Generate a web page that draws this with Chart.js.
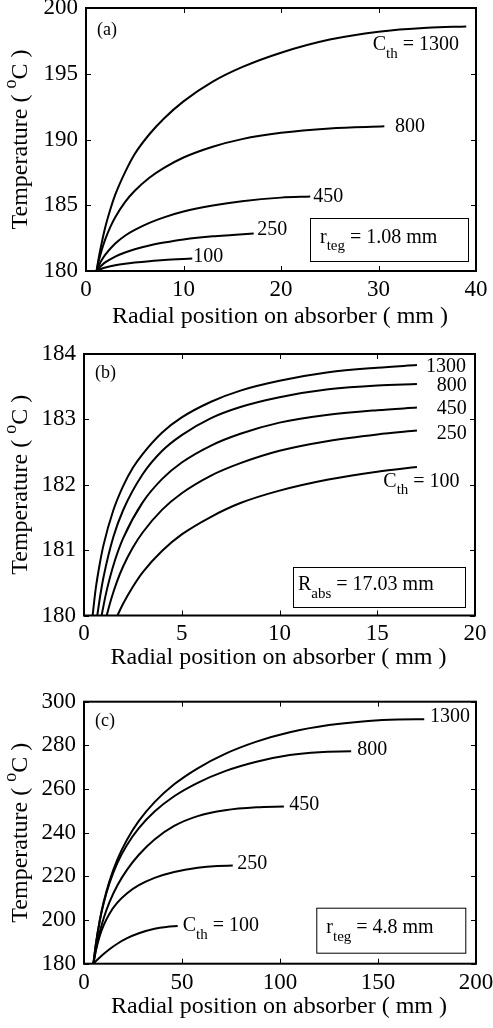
<!DOCTYPE html>
<html>
<head>
<meta charset="utf-8">
<script src="https://cdn.jsdelivr.net/npm/chart.js@4.4.0/dist/chart.umd.min.js"></script>
<style>
  body { margin: 0; background: #fff; }
  canvas { position: absolute; left: 0; }
</style>
</head>
<body>
<canvas id="chartA" width="493" height="340" style="top:0"></canvas>
<canvas id="chartB" width="493" height="340" style="top:340px"></canvas>
<canvas id="chartC" width="493" height="348" style="top:680px"></canvas>
<script>
// Panel (a): r_teg = 1.08 mm
const rA1300 = [1.08, 1.3, 1.6, 2, 2.5, 3, 4, 5, 6.5, 8, 10, 13, 16, 20, 25, 30, 35, 39];
const tA1300 = [180, 180.98, 182.1, 183.4, 184.7, 185.8, 187.5, 188.9, 190.4, 191.6, 192.9, 194.4, 195.5, 196.6, 197.6, 198.2, 198.5, 198.6];
const rA800 = [1.08, 1.3, 1.6, 2, 2.5, 3, 4, 5, 6.5, 8, 10, 13, 16, 20, 25, 30.6];
const tA800 = [180, 180.74, 181.57, 182.46, 183.36, 184.09, 185.24, 186.1, 187.09, 187.84, 188.63, 189.45, 190.03, 190.51, 190.84, 191.0];
const rA450 = [1.08, 1.3, 1.6, 2, 3, 4, 5, 6.5, 8, 10, 13, 16, 20, 23];
const tA450 = [180, 180.38, 180.81, 181.26, 182.09, 182.68, 183.12, 183.66, 184.08, 184.52, 184.98, 185.31, 185.58, 185.66];
const rA250 = [1.08, 1.3, 1.6, 2, 3, 4, 5, 6.5, 8, 10, 13, 15, 17.2];
const tA250 = [180, 180.2, 180.42, 180.67, 181.1, 181.41, 181.65, 181.94, 182.16, 182.4, 182.64, 182.74, 182.85];
const rA100 = [1.08, 1.3, 1.6, 2, 3, 4, 5, 6.5, 8, 10.9];
const tA100 = [180, 180.08, 180.17, 180.26, 180.43, 180.55, 180.64, 180.75, 180.84, 180.95];

// Panel (b): R_abs = 17.03 mm
const rB1300 = [0.44, 0.6, 0.8, 1, 1.5, 2, 2.5, 3, 4, 5, 6.5, 8, 10, 12.5, 15, 17.03];
const tB1300 = [180, 180.41, 180.78, 181.08, 181.61, 181.98, 182.26, 182.47, 182.8, 183.03, 183.27, 183.44, 183.59, 183.72, 183.79, 183.83];
const rB800 = [0.68, 0.85, 1, 1.5, 2, 3, 4, 5, 6.5, 8, 10, 12.5, 15, 17.03];
const tB800 = [180, 180.34, 180.59, 181.2, 181.61, 182.16, 182.52, 182.76, 183.02, 183.19, 183.34, 183.46, 183.52, 183.54];
const rB450 = [0.9, 1.1, 1.3, 1.6, 2, 3, 4, 5, 6.5, 8, 10, 12.5, 15, 17.03];
const tB450 = [180, 180.3, 180.55, 180.86, 181.18, 181.73, 182.09, 182.34, 182.6, 182.78, 182.95, 183.07, 183.14, 183.18];
const rB250 = [1.16, 1.4, 1.7, 2, 2.5, 3, 4, 5, 6.5, 8, 10, 12.5, 15, 17.03];
const tB250 = [180, 180.26, 180.53, 180.75, 181.04, 181.27, 181.62, 181.87, 182.14, 182.33, 182.52, 182.67, 182.77, 182.83];
const rB100 = [1.71, 2, 2.5, 3, 4, 5, 6.5, 8, 10, 12.5, 15, 17.03];
const tB100 = [180, 180.18, 180.44, 180.66, 180.99, 181.24, 181.51, 181.72, 181.91, 182.08, 182.2, 182.27];

// Panel (c): r_teg = 4.8 mm
const rC1300 = [4.8, 6, 8, 10, 13, 17, 22, 28, 36, 46, 58, 72, 88, 105, 125, 145, 160, 173.6];
const tC1300 = [180, 188.65, 199.66, 208.1, 217.86, 227.7, 236.9, 245.4, 254.0, 262.15, 269.5, 276.1, 281.7, 286.0, 289.3, 291.2, 291.85, 291.95];
const rC800 = [4.8, 6, 8, 10, 13, 17, 22, 28, 36, 46, 58, 72, 88, 105, 120, 136.3];
const tC800 = [180, 188.6, 199.4, 207.55, 216.9, 226.1, 234.5, 242.1, 249.7, 256.7, 262.85, 268.2, 272.5, 275.55, 276.9, 277.3];
const rC450 = [4.8, 6, 8, 10, 13, 17, 22, 28, 36, 46, 58, 72, 88, 102];
const tC450 = [180, 186.26, 194.37, 200.69, 208.15, 215.8, 223.1, 229.9, 236.9, 243.1, 247.6, 250.3, 251.65, 252.0];
const rC250 = [4.8, 6, 8, 10, 13, 17, 22, 28, 36, 46, 58, 68, 75.9];
const tC250 = [180, 185.74, 192.62, 197.57, 202.93, 207.93, 212.28, 215.96, 219.31, 222.0, 223.95, 224.76, 224.92];
const rC100 = [4.8, 6, 8, 10, 13, 17, 22, 28, 36, 42, 47.8];
const tC100 = [180, 181.11, 182.85, 184.45, 186.64, 189.15, 191.68, 193.95, 196.0, 196.85, 197.22];

const SERIF = '"Liberation Serif", "Times New Roman", serif';

function zip(xs, ys) {
  return xs.map((x, i) => ({ x: x, y: ys[i] }));
}

// draws text made of pieces, some subscript / superscript
function drawRich(ctx, parts, x, y, size) {
  let cx = x;
  parts.forEach(p => {
    const small = p[1] === 'sub' || p[1] === 'sup';
    ctx.font = (small ? Math.round(size * 0.75) : size) + 'px ' + SERIF;
    let dy = 0;
    if (p[1] === 'sub') dy = size * 0.45;
    if (p[1] === 'sup') dy = -size * 0.4;
    ctx.fillText(p[0], cx, y + dy);
    cx += ctx.measureText(p[0]).width;
  });
  return cx - x;
}

function richWidth(ctx, parts, size) {
  let w = 0;
  parts.forEach(p => {
    const small = p[1] === 'sub' || p[1] === 'sup';
    ctx.font = (small ? Math.round(size * 0.75) : size) + 'px ' + SERIF;
    w += ctx.measureText(p[0]).width;
  });
  return w;
}

const framePlugin = {
  id: 'frame',
  afterDraw(chart, args, opts) {
    const ctx = chart.ctx;
    const a = chart.chartArea;
    const xs = chart.scales.x, ys = chart.scales.y;
    ctx.save();
    ctx.strokeStyle = '#000';
    ctx.fillStyle = '#000';

    // inward tick marks on all four sides
    ctx.lineWidth = 1;
    ctx.beginPath();
    xs.ticks.forEach(t => {
      const px = Math.round(xs.getPixelForValue(t.value)) + 0.5;
      ctx.moveTo(px, a.bottom); ctx.lineTo(px, a.bottom - 5);
      ctx.moveTo(px, a.top); ctx.lineTo(px, a.top + 5);
    });
    ys.ticks.forEach(t => {
      const py = Math.round(ys.getPixelForValue(t.value)) + 0.5;
      ctx.moveTo(a.left, py); ctx.lineTo(a.left + 5, py);
      ctx.moveTo(a.right, py); ctx.lineTo(a.right - 5, py);
    });
    ctx.stroke();

    ctx.lineWidth = 2;
    ctx.strokeRect(a.left, a.top, a.right - a.left, a.bottom - a.top);

    ctx.textBaseline = 'middle';
    ctx.textAlign = 'left';

    // panel letter
    ctx.font = '18px ' + SERIF;
    ctx.fillText(opts.letter, a.left + 11, a.top + opts.letterDy);

    // curve labels
    opts.labels.forEach(l => {
      drawRich(ctx, l.parts, xs.getPixelForValue(l.x), ys.getPixelForValue(l.y), 20);
    });

    // boxed parameter note
    const b = opts.box;
    ctx.lineWidth = 1;
    ctx.strokeRect(a.right - b.right - b.w + 0.5, a.bottom - b.bottom - b.h + 0.5, b.w, b.h);
    drawRich(ctx, b.parts, a.right - b.right - b.w + b.pad, a.bottom - b.bottom - b.h / 2 - 2, 20);

    // x title
    ctx.font = '24px ' + SERIF;
    ctx.textAlign = 'center';
    ctx.fillText('Radial position on absorber ( mm )', (a.left + a.right) / 2 - 1, a.bottom + opts.titleDy);

    // y title with superscript o
    const yParts = [['Temperature ( '], ['o', 'sup'], ['C )']];
    ctx.textAlign = 'left';
    const w = richWidth(ctx, yParts, 24);
    ctx.translate(21, (a.top + a.bottom) / 2);
    ctx.rotate(-Math.PI / 2);
    drawRich(ctx, yParts, -w / 2, 0, 24);
    ctx.restore();
  }
};

function makeChart(id, p) {
  new Chart(document.getElementById(id), {
    type: 'line',
    data: {
      datasets: p.series.map(s => ({
        data: s,
        borderColor: '#000',
        borderWidth: 2,
        pointRadius: 0,
        fill: false,
        cubicInterpolationMode: 'monotone'
      }))
    },
    options: {
      responsive: false,
      animation: false,
      layout: { padding: { top: p.top, right: p.right, left: 0, bottom: 0 } },
      plugins: {
        legend: { display: false },
        tooltip: { enabled: false },
        frame: p
      },
      scales: {
        x: {
          type: 'linear',
          min: p.xMin, max: p.xMax,
          ticks: { stepSize: p.xStep, color: '#000', font: { family: SERIF, size: 23 }, padding: 5, maxRotation: 0 },
          grid: { display: false, drawTicks: false },
          border: { display: false },
          afterFit: s => { s.height = p.bottomH; s.paddingLeft = 0; s.paddingRight = 0; }
        },
        y: {
          min: p.yMin, max: p.yMax,
          ticks: { stepSize: p.yStep, color: '#000', font: { family: SERIF, size: 23 }, padding: 8 },
          grid: { display: false, drawTicks: false },
          border: { display: false },
          afterFit: s => { s.width = p.left; s.paddingTop = 0; s.paddingBottom = 0; }
        }
      }
    },
    plugins: [framePlugin]
  });
}

makeChart('chartA', {
  series: [zip(rA1300, tA1300), zip(rA800, tA800), zip(rA450, tA450), zip(rA250, tA250), zip(rA100, tA100)],
  xMin: 0, xMax: 40, xStep: 10, yMin: 180, yMax: 200, yStep: 5,
  top: 8, right: 17, left: 86, bottomH: 69, titleDy: 46,
  letter: '(a)', letterDy: 22,
  labels: [
    { parts: [['C'], ['th', 'sub'], [' = 1300']], x: 29.4, y: 197.19 },
    { parts: [['800']], x: 31.7, y: 190.97 },
    { parts: [['450']], x: 23.3, y: 185.65 },
    { parts: [['250']], x: 17.57, y: 183.12 },
    { parts: [['100']], x: 11.0, y: 181.09 }
  ],
  box: { parts: [['r'], ['teg', 'sub'], [' = 1.08 mm']], w: 158, h: 43, right: 8, bottom: 10, pad: 10 }
});

makeChart('chartB', {
  series: [zip(rB1300, tB1300), zip(rB800, tB800), zip(rB450, tB450), zip(rB250, tB250), zip(rB100, tB100)],
  xMin: 0, xMax: 20, xStep: 5, yMin: 180, yMax: 184, yStep: 1,
  top: 14, right: 18, left: 84, bottomH: 64.5, titleDy: 42,
  letter: '(b)', letterDy: 19,
  labels: [
    { parts: [['1300']], x: 17.49, y: 183.80 },
    { parts: [['800']], x: 18.04, y: 183.52 },
    { parts: [['450']], x: 18.04, y: 183.17 },
    { parts: [['250']], x: 18.04, y: 182.78 },
    { parts: [['C'], ['th', 'sub'], [' = 100']], x: 15.31, y: 182.05 }
  ],
  box: { parts: [['R'], ['abs', 'sub'], [' = 17.03 mm']], w: 172, h: 40, right: 10, bottom: 8.5, pad: 5 }
});

makeChart('chartC', {
  series: [zip(rC1300, tC1300), zip(rC800, tC800), zip(rC450, tC450), zip(rC250, tC250), zip(rC100, tC100)],
  xMin: 0, xMax: 200, xStep: 50, yMin: 180, yMax: 300, yStep: 20,
  top: 21.7, right: 17, left: 84, bottomH: 64.3, titleDy: 43,
  letter: '(c)', letterDy: 20,
  labels: [
    { parts: [['1300']], x: 176.5, y: 293.3 },
    { parts: [['800']], x: 139.4, y: 278.2 },
    { parts: [['450']], x: 104.7, y: 252.6 },
    { parts: [['250']], x: 78.2, y: 225.9 },
    { parts: [['C'], ['th', 'sub'], [' = 100']], x: 50.4, y: 197.2 }
  ],
  box: { parts: [['r'], ['teg', 'sub'], [' = 4.8 mm']], w: 149, h: 45, right: 10.7, bottom: 11, pad: 10 }
});
</script>
</body>
</html>
